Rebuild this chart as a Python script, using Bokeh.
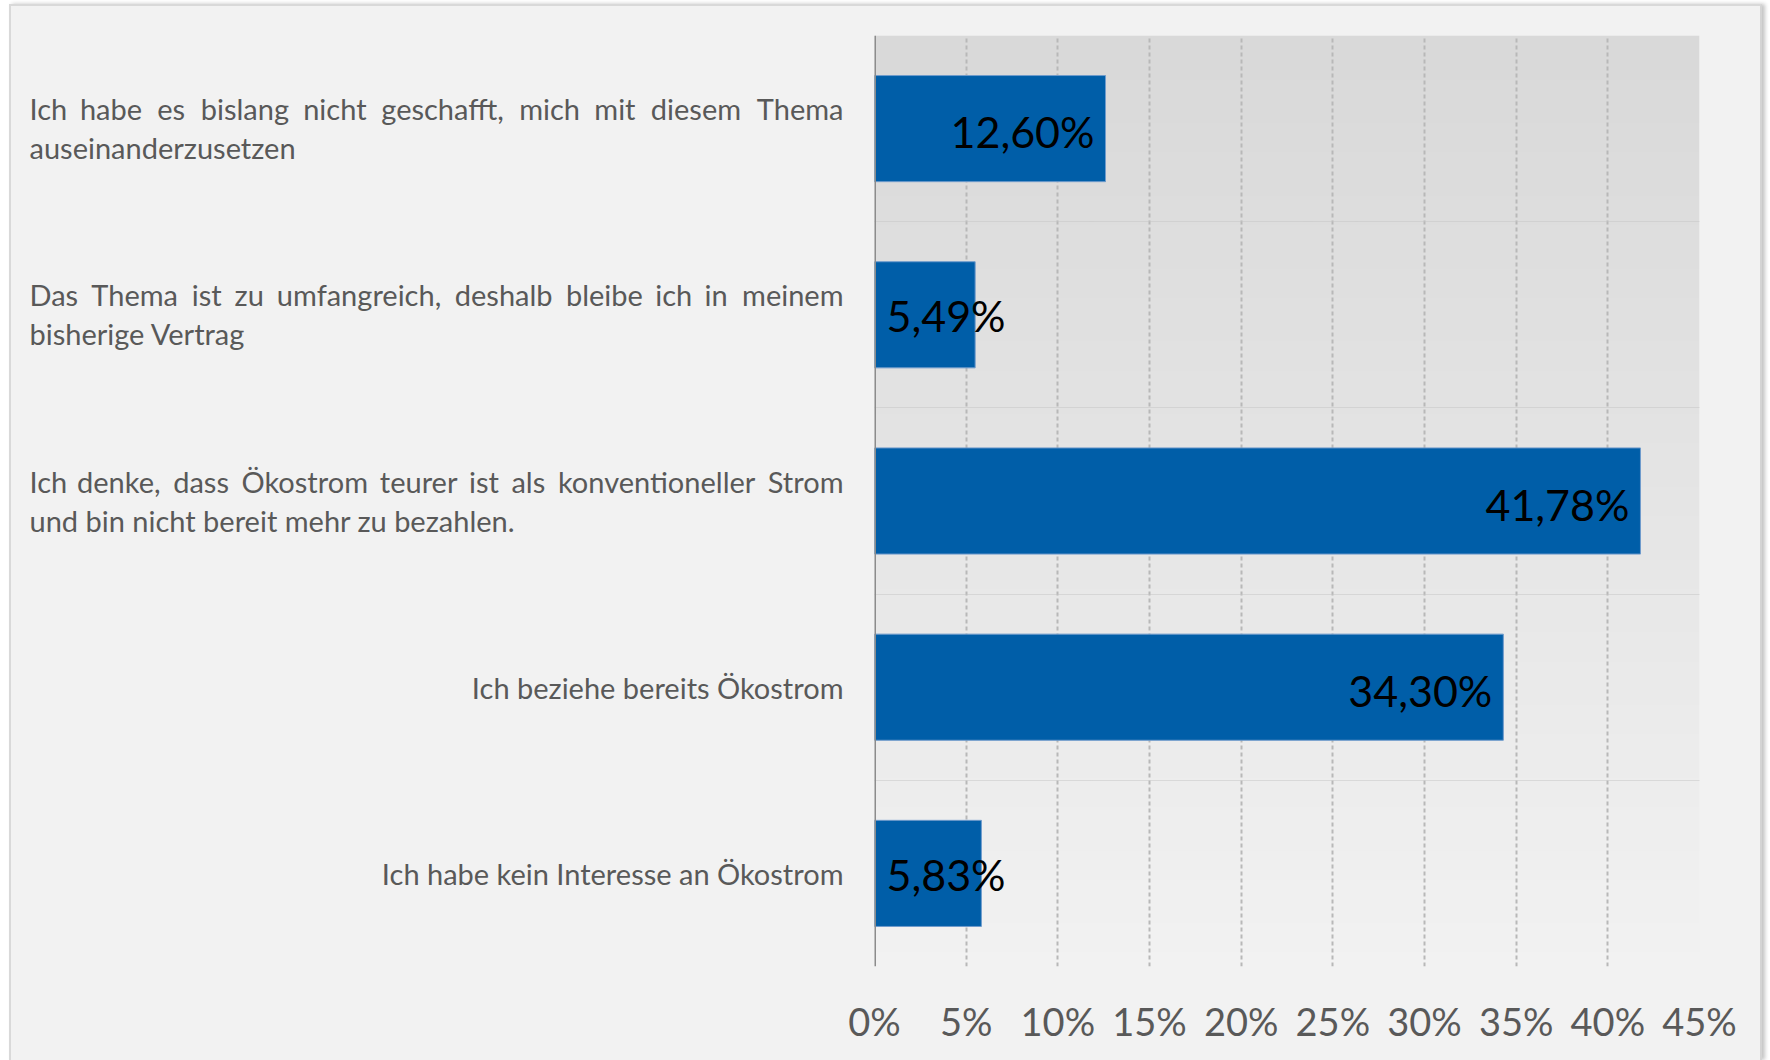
import numpy as np
from bokeh.plotting import figure
from bokeh.layouts import row
from bokeh.models import Range1d, FixedTicker, ColumnDataSource, Span
from bokeh.embed import file_html
from bokeh.resources import INLINE
from bokeh.core.properties import value

# ---------------- data ----------------
category_lines = [
    ["Ich habe es bislang nicht geschafft, mich mit diesem Thema", "auseinanderzusetzen"],
    ["Das Thema ist zu umfangreich, deshalb bleibe ich in meinem", "bisherige Vertrag"],
    ["Ich denke, dass Ökostrom teurer ist als konventioneller Strom", "und bin nicht bereit mehr zu bezahlen."],
    ["Ich beziehe bereits Ökostrom"],
    ["Ich habe kein Interesse an Ökostrom"],
]
values = [12.60, 5.49, 41.78, 34.30, 5.83]
value_labels = ["12,60%", "5,49%", "41,78%", "34,30%", "5,83%"]
tick_values = [0, 5, 10, 15, 20, 25, 30, 35, 40, 45]
tick_labels = ["0%", "5%", "10%", "15%", "20%", "25%", "30%", "35%", "40%", "45%"]

# ---------------- style ----------------
FONT = "Lato"
BAR_COLOR = "#005ea8"
TEXT_GREY = "#595959"
BG = "#f2f2f2"
CAT_FS = 29
TICK_FS = 38
VAL_FS = 43

LABEL_W = 835          # width of the label column (px)
PAD = 28               # left border of the bar panel
PLOT_W = 914           # width of the bar panel (px)
H = 1054
TOP, BOTTOM = 29, 94

n = len(values)
ys = [n - 1 - i for i in range(n)]          # top category first
xmin, xmax = tick_values[0], tick_values[-1]
ymin, ymax = -0.5, n - 0.5
yr = Range1d(ymin, ymax)

# ================= bar panel =================
p = figure(width=PLOT_W, height=H, x_range=Range1d(xmin, xmax), y_range=yr,
           output_backend="svg", toolbar_location=None, y_axis_location=None,
           min_border_left=PAD, min_border_right=61,
           min_border_top=TOP, min_border_bottom=BOTTOM)
p.border_fill_color = BG
p.background_fill_color = BG
p.outline_line_color = None

# gradient plot-area background (top darker, bottom lighter)
rows = 64
g = np.linspace(242, 217, rows).astype(np.uint8)
img = np.empty((rows, 1), dtype=np.uint32)
view = img.view(dtype=np.uint8).reshape((rows, 1, 4))
view[:, 0, 0] = g
view[:, 0, 1] = g
view[:, 0, 2] = g
view[:, 0, 3] = 255
p.image_rgba(image=[img], x=xmin, y=ymin, dw=xmax - xmin, dh=ymax - ymin, level="image")

# x axis
p.xaxis.ticker = FixedTicker(ticks=tick_values)
p.xaxis.major_label_overrides = {t: l for t, l in zip(tick_values, tick_labels)}
p.xaxis.axis_line_color = None
p.xaxis.major_tick_line_color = None
p.xaxis.minor_tick_line_color = None
p.xaxis.major_label_text_font = FONT
p.xaxis.major_label_text_font_size = f"{TICK_FS}px"
p.xaxis.major_label_text_color = TEXT_GREY
p.xaxis.major_label_standoff = 25

# grids
p.xgrid.ticker = FixedTicker(ticks=tick_values)
p.xgrid.grid_line_color = "#b8b8b8"
p.xgrid.grid_line_width = 2
p.xgrid.grid_line_dash = "4 3"
p.ygrid.ticker = FixedTicker(ticks=[k - 0.5 for k in range(n + 1)])
p.ygrid.grid_line_color = "#c4c4c4"
p.ygrid.grid_line_width = 1
p.ygrid.grid_line_dash = "1 1"

# bars
src = ColumnDataSource(dict(y=ys, v=values, lab=value_labels))
p.hbar(y="y", left=0, right="v", height=0.57, source=src,
       fill_color=BAR_COLOR, line_color="#6f9bcc", line_width=1)

# vertical value axis line
p.add_layout(Span(location=xmin, dimension="height", line_color="#8c8c8c", line_width=3))

# value labels: inside end for long bars, from the axis for short bars
inside = [i for i, v in enumerate(values) if v >= 10]
outside = [i for i, v in enumerate(values) if v < 10]
src_in = ColumnDataSource(dict(x=[values[i] for i in inside], y=[ys[i] for i in inside],
                               t=[value_labels[i] for i in inside]))
src_out = ColumnDataSource(dict(x=[xmin for i in outside], y=[ys[i] for i in outside],
                                t=[value_labels[i] for i in outside]))
p.text(x="x", y="y", text="t", source=src_in, text_align="right", text_baseline="middle",
       x_offset=-11, y_offset=3, text_font=value(FONT), text_font_size=f"{VAL_FS}px", text_color="black")
p.text(x="x", y="y", text="t", source=src_out, text_align="left", text_baseline="middle",
       x_offset=12, y_offset=1, text_font=value(FONT), text_font_size=f"{VAL_FS}px", text_color="black")

# ================= label column =================
lp = figure(width=LABEL_W, height=H, x_range=Range1d(0, LABEL_W), y_range=yr,
            output_backend="svg", toolbar_location=None,
            x_axis_location=None, y_axis_location=None,
            min_border_left=0, min_border_right=0,
            min_border_top=TOP, min_border_bottom=BOTTOM)
lp.grid.visible = False
lp.border_fill_color = BG
lp.background_fill_color = BG
lp.outline_line_color = None


def est_width(word, fs):
    w = 0.0
    for ch in word:
        if ch in "iljI":
            w += 0.24
        elif ch in ".,":
            w += 0.21
        elif ch in "ftr":
            w += 0.35
        elif ch in "sczx":
            w += 0.44
        elif ch == "m":
            w += 0.84
        elif ch == "w":
            w += 0.76
        elif ch == "Ö":
            w += 0.78
        elif ch in "DV":
            w += 0.68
        elif ch in "TS":
            w += 0.55
        elif ch.isupper():
            w += 0.62
        else:
            w += 0.54
    return w * fs


LBL_LEFT, LBL_RIGHT = 18, 832
LINE_UP, LINE_DOWN = -20, 19      # screen px (positive = down)

cols = {a: dict(x=[], y=[], t=[], dy=[]) for a in ("left", "right", "center")}
for lines, yy in zip(category_lines, ys):
    if len(lines) == 1:
        d = cols["right"]
        d["x"].append(LBL_RIGHT); d["y"].append(yy); d["t"].append(lines[0]); d["dy"].append(0)
        continue
    words = lines[0].split(" ")
    widths = [est_width(w, CAT_FS) for w in words]
    gap = (LBL_RIGHT - LBL_LEFT - sum(widths)) / (len(words) - 1)
    cur = LBL_LEFT
    for k, (w, wd) in enumerate(zip(words, widths)):
        if k == 0:
            d, xx = cols["left"], LBL_LEFT
        elif k == len(words) - 1:
            d, xx = cols["right"], LBL_RIGHT
        else:
            d, xx = cols["center"], cur + wd / 2
        d["x"].append(xx); d["y"].append(yy); d["t"].append(w); d["dy"].append(LINE_UP)
        cur += wd + gap
    d = cols["left"]
    d["x"].append(LBL_LEFT); d["y"].append(yy); d["t"].append(lines[1]); d["dy"].append(LINE_DOWN)

for align, d in cols.items():
    lp.text(x="x", y="y", text="t", y_offset="dy", source=ColumnDataSource(d),
            text_align=align, text_baseline="middle",
            text_font=value(FONT), text_font_size=f"{CAT_FS}px", text_color=TEXT_GREY)

layout = row(lp, p, spacing=0)
layout.styles = {"margin-left": "9px", "margin-top": "4px", "background-color": BG,
                 "border-top": "2px solid #d9d9d9", "border-left": "2px solid #d9d9d9",
                 "border-right": "2px solid #d4d4d4", "box-shadow": "3px 0px 4px #c4c4c4"}

open("out.html", "w").write(file_html(layout, INLINE, title="Ökostrom"))
